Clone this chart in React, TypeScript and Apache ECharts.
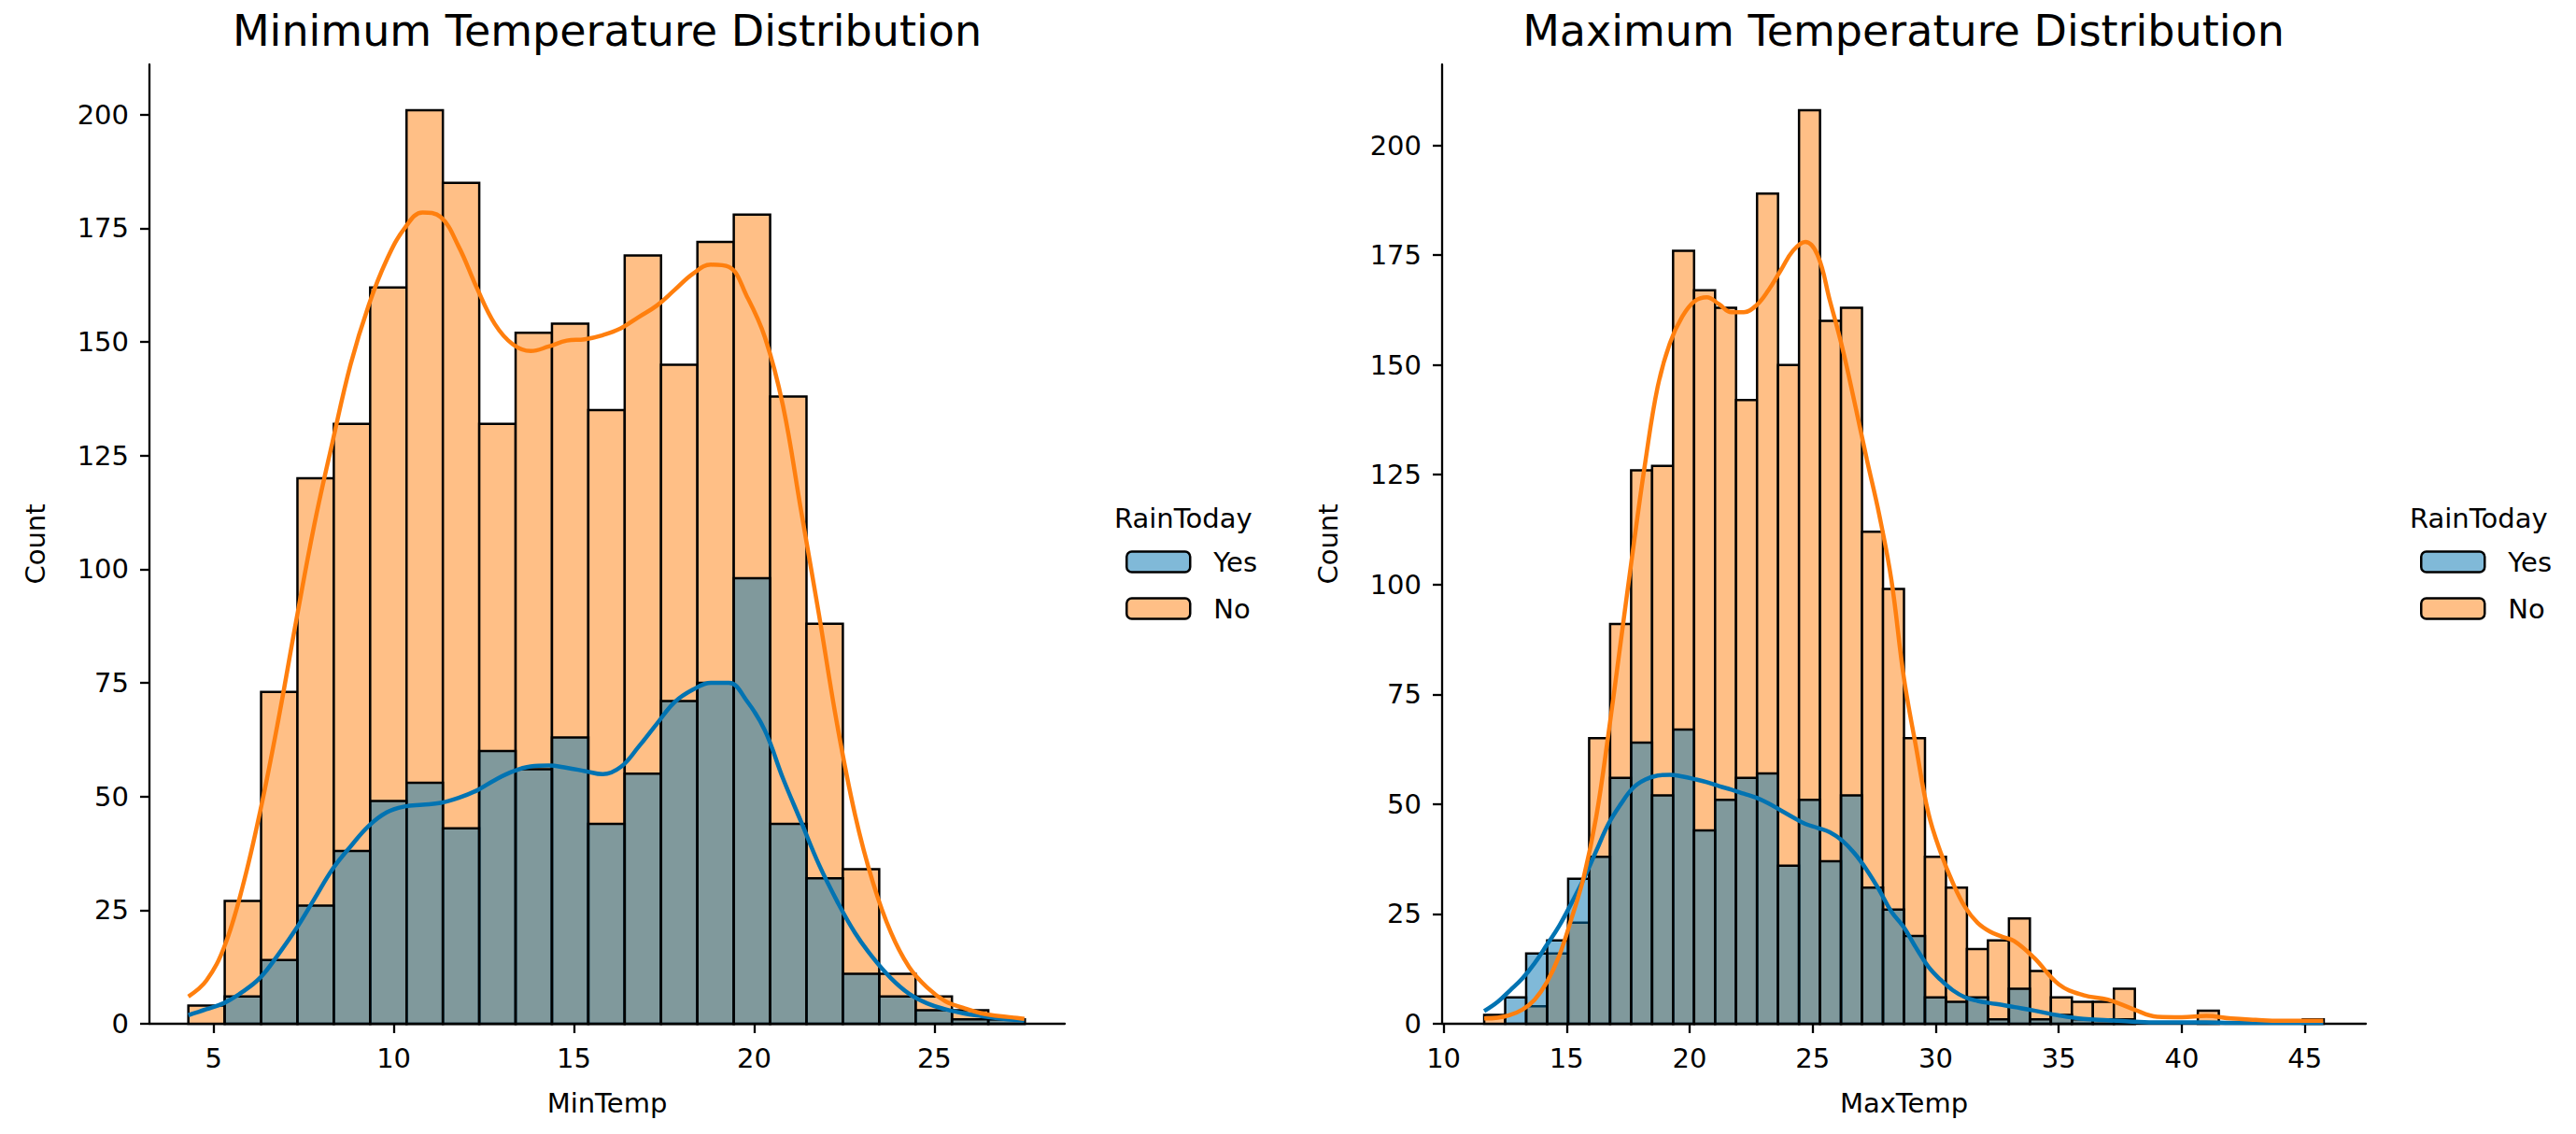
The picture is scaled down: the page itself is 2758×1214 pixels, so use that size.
import React, { useEffect, useRef } from 'react';
import * as echarts from 'echarts';

// histogram bins (seaborn auto bins), counts
const minTempStart = 4.3;
const minTempBinWidth = 1.009;
const minTempNo = [4, 27, 73, 120, 132, 162, 201, 185, 132, 152, 154, 135, 169, 145, 172, 178, 138, 88, 34, 11, 6, 3, 1];
const minTempYes = [0, 6, 14, 26, 38, 49, 53, 43, 60, 56, 63, 44, 55, 71, 75, 98, 44, 32, 11, 6, 3, 1, 1];

const maxTempStart = 11.65;
const maxTempBinWidth = 0.853;
const maxTempNo = [2, 0, 4, 16, 23, 65, 91, 126, 127, 176, 167, 163, 142, 189, 150, 208, 160, 163, 112, 99,
  65, 38, 31, 17, 19, 24, 12, 6, 5, 5, 8, 0, 0, 0, 3, 0, 0, 0, 0, 1];
const maxTempYes = [0, 6, 16, 19, 33, 38, 56, 64, 52, 67, 44, 51, 56, 57, 36, 51, 37, 52, 31, 26,
  20, 6, 5, 6, 1, 8, 1, 2, 1, 1, 1, 0, 0, 0, 0, 0, 0, 0, 0, 0];

// kde curves (count scale)
const minKdeX = [4.3, 4.8, 5.3, 5.8, 6.3, 6.8, 7.3, 7.8, 8.3, 8.8, 9.3, 9.8, 10.3, 10.8, 11.3, 11.8, 12.3, 12.8,
  13.3, 13.8, 14.3, 14.8, 15.3, 15.8, 16.3, 16.8, 17.3, 17.8, 18.3, 18.8, 19.3, 19.8, 20.3, 20.8, 21.3, 21.8,
  22.3, 22.8, 23.3, 23.8, 24.3, 24.8, 25.3, 25.8, 26.3, 26.8, 27.3, 27.5];
const minKdeNo = [6, 9.5, 17, 30, 47, 67, 89, 110, 128, 145, 158, 168, 175, 178.5, 177.5, 171, 162, 154,
  149.5, 148, 149, 150.3, 150.6, 151.5, 153, 155.5, 158, 161.5, 165, 167, 166.5, 160, 151, 136, 113, 90,
  66, 46, 31, 20, 12.5, 8, 5, 3.5, 2.3, 1.7, 1.3, 1.1];
const minKdeYes = [1.9, 3.2, 4.6, 7, 10.2, 15.3, 21, 27.5, 34, 39, 43.5, 46.5, 47.8, 48.2, 48.6, 49.7, 51.3, 53.6,
  55.5, 56.6, 56.8, 56.3, 55.6, 54.9, 56.5, 61, 66, 70.8, 73.5, 75, 75, 71, 64.5, 54, 44.5, 35,
  27, 20, 14.5, 10, 6.6, 4.5, 3.2, 2.3, 1.7, 1.2, 0.8, 0.7];

const maxKdeX = [11.65, 12.2, 12.7, 13.2, 13.7, 14.2, 14.7, 15.2, 15.7, 16.2, 16.7, 17.2, 17.7, 18.2, 18.7, 19.2,
  19.7, 20.2, 20.7, 21.2, 21.7, 22.2, 22.7, 23.2, 23.7, 24.2, 24.7, 25.2, 25.7, 26.2, 26.7, 27.2, 27.7, 28.2,
  28.7, 29.2, 29.7, 30.2, 30.7, 31.2, 31.7, 32.2, 32.7, 33.2, 34, 35, 36, 37, 38, 39, 40, 41, 42, 43, 44, 45, 45.75];
const maxKdeNo = [1.2, 1.4, 2, 3.2, 5.5, 9.5, 15.5, 24, 33.5, 47, 66, 87, 108, 128, 145, 155,
  161, 164.5, 165.4, 163.8, 162, 162, 163.5, 167, 171.5, 176, 178, 175, 164.6, 154, 141.5, 128.5, 116, 101,
  79, 63, 48, 39, 32, 26.5, 23, 21, 19.8, 18.8, 15, 9, 6.5, 5.5, 3.4, 1.6, 1.5, 1.8, 1.2, 0.9, 0.7, 0.7, 0.7];
const maxKdeYes = [2.9, 5, 7.6, 10.3, 13.8, 18, 22.3, 27.5, 33, 39.3, 45.5, 50, 53.7, 55.6, 56.5, 56.7,
  56.3, 55.7, 55, 54.1, 53.3, 52.4, 51.5, 50.2, 48.6, 47, 45.5, 44.6, 43.6, 41.7, 38.8, 35, 30.5, 25.5,
  22, 17.3, 13, 10, 7.6, 6, 5.2, 4.7, 4.3, 3.8, 3, 1.9, 1.1, 0.8, 0.5, 0.3, 0.3, 0.3, 0.2, 0.2, 0.2, 0.2, 0.2];

const countTicks = [0, 25, 50, 75, 100, 125, 150, 175, 200];
const minTempTicks = [5, 10, 15, 20, 25];
const maxTempTicks = [10, 15, 20, 25, 30, 35, 40, 45];

const FONT = 'DejaVu Sans';
const NO_FILL = '#ffbf86';
const YES_FILL = 'rgba(1,115,178,0.5)';
const NO_LINE = '#ff7f0e';
const YES_LINE = '#0173b2';

const toBins = (start: number, width: number, counts: number[]) =>
  counts.map((c, i) => [start + i * width, start + (i + 1) * width, c]);

const histSeries = (name: string, data: number[][], idx: number, fill: string) => ({
  type: 'custom',
  name,
  xAxisIndex: idx,
  yAxisIndex: idx,
  data,
  encode: { x: [0, 1], y: 2 },
  itemStyle: { color: fill },
  renderItem: (params: any, api: any) => {
    const c = api.value(2);
    if (!c) return null;
    const p0 = api.coord([api.value(0), c]);
    const p1 = api.coord([api.value(1), 0]);
    return {
      type: 'rect',
      shape: { x: p0[0], y: p0[1], width: p1[0] - p0[0], height: p1[1] - p0[1] },
      style: { fill, stroke: '#000', lineWidth: 2.5 }
    };
  }
});

const kdeSeries = (name: string, xs: number[], ys: number[], idx: number, color: string) => ({
  type: 'line',
  name,
  xAxisIndex: idx,
  yAxisIndex: idx,
  data: xs.map((x, i) => [x, ys[i]]),
  smooth: 0.4,
  showSymbol: false,
  lineStyle: { width: 4.5, color },
  itemStyle: { color },
  z: 3
});

const axisCommon = {
  axisLine: { show: true, lineStyle: { color: '#000', width: 2.3 } },
  splitLine: { show: false },
  nameTextStyle: { fontSize: 29, fontFamily: FONT, color: '#000' }
};

const xAxis = (idx: number, min: number, max: number, ticks: number[], name: string) => ({
  ...axisCommon,
  type: 'value',
  gridIndex: idx,
  min,
  max,
  name,
  nameLocation: 'middle',
  nameGap: 70,
  axisTick: { length: 10, lineStyle: { color: '#000', width: 2.3 }, customValues: ticks },
  axisLabel: { fontSize: 29, fontFamily: FONT, color: '#000', margin: 22, customValues: ticks }
});

const yAxis = (idx: number, max: number) => ({
  ...axisCommon,
  type: 'value',
  gridIndex: idx,
  min: 0,
  max,
  name: 'Count',
  nameLocation: 'middle',
  nameGap: 108,
  nameRotate: 90,
  axisTick: { show: true, length: 10, lineStyle: { color: '#000', width: 2.3 }, customValues: countTicks },
  axisLabel: { fontSize: 29, fontFamily: FONT, color: '#000', margin: 22, customValues: countTicks }
});

const legend = (left: number) => ({
  orient: 'vertical',
  left,
  top: 587,
  padding: 0,
  itemWidth: 68,
  itemHeight: 22,
  itemGap: 21,
  selectedMode: false,
  data: ['Yes', 'No'],
  itemStyle: { borderColor: '#000', borderWidth: 2.5 },
  textStyle: { fontSize: 29, lineHeight: 29, fontFamily: FONT, color: '#000', padding: [0, 0, 0, 20] }
});

const title = (text: string, left: number, top: number, size: number, align: string) => ({
  text,
  left,
  top,
  padding: 0,
  textAlign: align,
  textStyle: { fontSize: size, lineHeight: size, fontFamily: FONT, fontWeight: 'normal', color: '#000' }
});

export default function App() {
  const chartRef = useRef<HTMLDivElement>(null);

  useEffect(() => {
    if (!chartRef.current) return;
    document.body.style.margin = '0';
    const chart = echarts.init(chartRef.current, null, { renderer: 'svg' });

    chart.setOption({
      animation: false,
      backgroundColor: '#fff',
      title: [
        title('Minimum Temperature Distribution', 650, 10, 46, 'center'),
        title('Maximum Temperature Distribution', 2038, 10, 46, 'center'),
        title('RainToday', 1193, 540, 29, 'left'),
        title('RainToday', 2580, 540, 29, 'left')
      ],
      legend: [legend(1205), legend(2591)],
      grid: [
        { left: 160, top: 69, width: 980, height: 1027 },
        { left: 1544, top: 69, width: 989, height: 1027 }
      ],
      xAxis: [
        xAxis(0, 3.22, 28.62, minTempTicks, 'MinTemp'),
        xAxis(1, 9.94, 47.48, maxTempTicks, 'MaxTemp')
      ],
      yAxis: [yAxis(0, 211.05), yAxis(1, 218.4)],
      series: [
        histSeries('No', toBins(minTempStart, minTempBinWidth, minTempNo), 0, NO_FILL),
        histSeries('Yes', toBins(minTempStart, minTempBinWidth, minTempYes), 0, YES_FILL),
        kdeSeries('Yes kde', minKdeX, minKdeYes, 0, YES_LINE),
        kdeSeries('No kde', minKdeX, minKdeNo, 0, NO_LINE),
        histSeries('No', toBins(maxTempStart, maxTempBinWidth, maxTempNo), 1, NO_FILL),
        histSeries('Yes', toBins(maxTempStart, maxTempBinWidth, maxTempYes), 1, YES_FILL),
        kdeSeries('Yes kde', maxKdeX, maxKdeYes, 1, YES_LINE),
        kdeSeries('No kde', maxKdeX, maxKdeNo, 1, NO_LINE)
      ]
    });

    return () => {
      chart.dispose();
    };
  }, []);

  return <div ref={chartRef} style={{ width: '100vw', height: '100vh' }} />;
}
